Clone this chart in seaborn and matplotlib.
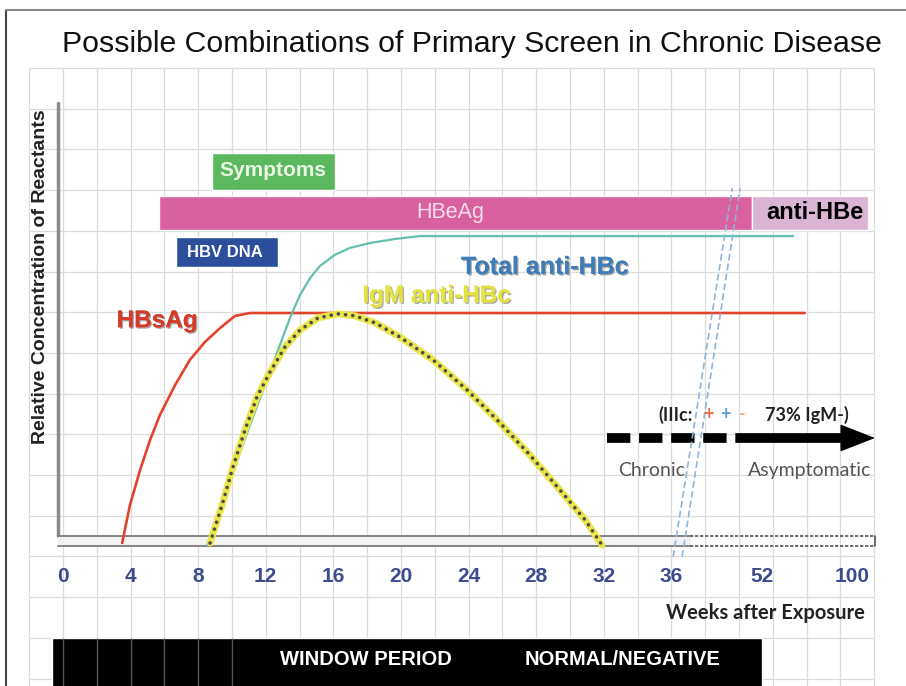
import numpy as np
import pandas as pd
import seaborn as sns
import matplotlib.pyplot as plt
import matplotlib.patheffects as pe
from matplotlib.lines import Line2D

# x axis: weeks after exposure, squeezed after week 36
tick_weeks = [0, 4, 8, 12, 16, 20, 24, 28, 32, 36, 52, 100]
tick_labels = [str(w) for w in tick_weeks]
knot_weeks = [-40, 0, 36, 52, 100, 400]
knot_pos = [-10, 0, 9, 10 + 1 / 3, 11 + 2 / 3, 11 + 2 / 3 + 300 / 36]


def fwd(w):
    return np.interp(w, knot_weeks, knot_pos)


def inv(p):
    return np.interp(p, knot_pos, knot_weeks)


# curves (week, relative level)
hbsag_wk = [3.5, 3.96, 4.56, 5.15, 5.74, 6.63, 7.51, 8.40, 9.29, 10.18, 11.07, 75]
hbsag_lvl = [-0.05, 0.88, 1.74, 2.48, 3.10, 3.83, 4.45, 4.89, 5.23, 5.53, 5.60, 5.60]

total_wk = [8.52, 9.29, 10.18, 11.07, 11.95, 12.84, 13.43, 14.02, 14.62, 15.21,
            16.09, 16.98, 18.17, 19.64, 21.12, 68.8]
total_lvl = [-0.10, 0.81, 1.84, 2.85, 3.83, 4.82, 5.48, 6.04, 6.46, 6.76,
             7.03, 7.20, 7.32, 7.42, 7.49, 7.49]

igm_wk = [8.70, 9.41, 10.06, 10.77, 11.48, 12.25, 13.14, 14.02, 15.09, 16.27,
          17.28, 18.46, 19.94, 21.89, 23.91, 25.86, 27.63, 29.41, 30.89, 31.89]
igm_lvl = [-0.05, 0.88, 1.82, 2.73, 3.54, 4.15, 4.77, 5.18, 5.48, 5.58,
           5.53, 5.36, 5.01, 4.45, 3.71, 2.90, 2.11, 1.25, 0.52, -0.10]

# marker bands
band_names = ["Symptoms", "HBeAg", "anti-HBe", "HBV DNA"]
band_start = [8.8, 5.7, 50.3, 6.7]
band_end = [16.1, 50.3, 108.7, 12.7]
band_low = [8.62, 7.64, 7.64, 6.73]
band_high = [9.53, 8.48, 8.48, 7.47]
band_colors = ["#5cb85f", "#d9619e", "#d9b5d3", "#2c4f9c"]

# bottom period strip
period_start, period_end = -0.65, 52.1
period_low, period_high = -3.6, -2.38

# chronic phase arrow and axis break
arrow_dash = [32.2, 50.5]
arrow_solid = [50.5, 96.0]
arrow_tip = 112.4
arrow_lvl = 2.53
break1_wk = [36.3, 46.8]
break2_wk = [37.9, 48.2]
break_lvl = [-0.39, 8.67]

sns.set_theme(style="white")
plt.rcParams["font.family"] = ["Liberation Sans", "DejaVu Sans"]

fig = plt.figure(figsize=(9.06, 6.86), dpi=100)
ax = fig.add_axes([0, 0, 1, 1])
ax.set_xscale("function", functions=(fwd, inv))
ax.axis("off")

# background grid
grid_pos = np.arange(-0.5, 12.01, 0.5)
grid_lvl = 11.62 - np.arange(0, 16)
ax.vlines(inv(grid_pos), -3.6, 11.62, colors="#dcdcdc", lw=0.9, zorder=0)
ax.hlines(grid_lvl, inv(-0.5), inv(12.0), colors="#dcdcdc", lw=0.9, zorder=0)

# axes drawn as in the slide
ax.plot([-0.3, -0.3], [0.13, 10.76], color="#8a8a8a", lw=2.5, zorder=2)
ax.fill_between([-0.3, 39.3], -0.12, 0.13, color="#f2f2f2", zorder=2)
ax.plot([-0.3, 39.3], [0.13, 0.13], color="#7a7a7a", lw=1.3, zorder=2)
ax.plot([-0.3, 39.3], [-0.12, -0.12], color="#7a7a7a", lw=1.3, zorder=2)
for lv in (0.13, -0.12):
    ax.plot([39.3, 112.4], [lv, lv], color="#555555", lw=1.2, ls=(0, (2, 1)), zorder=2)
ax.plot([112.4, 112.4], [-0.12, 0.13], color="#555555", lw=1.2, zorder=2)

# bands
for name, s, e, lo, hi, c in zip(band_names, band_start, band_end, band_low, band_high, band_colors):
    ax.barh((lo + hi) / 2, e - s, left=s, height=hi - lo, color=c, zorder=3)

# curves
df_hbs = pd.DataFrame({"week": hbsag_wk, "level": hbsag_lvl})
df_tot = pd.DataFrame({"week": total_wk, "level": total_lvl})
df_igm = pd.DataFrame({"week": igm_wk, "level": igm_lvl})
sns.lineplot(data=df_hbs, x="week", y="level", color="#e2432d", lw=1.9, sort=False, estimator=None, ax=ax, zorder=4)
sns.lineplot(data=df_tot, x="week", y="level", color="#63bfae", lw=1.6, sort=False, estimator=None, ax=ax, zorder=4)
sns.lineplot(data=df_igm, x="week", y="level", color="#e8e64c", lw=5, sort=False, estimator=None, ax=ax, zorder=5)
ax.plot(igm_wk, igm_lvl, color="#4a4a4a", lw=2.6, ls=(0, (0.01, 2.0)),
        dash_capstyle="round", zorder=6)

# axis break marks
for bw in (break1_wk, break2_wk):
    ax.plot(bw, break_lvl, color="#8fb3d9", lw=1.2, ls=(0, (4, 2)), zorder=6)

# chronic arrow
ax.plot(arrow_dash, [arrow_lvl] * 2, color="black", lw=7, ls=(0, (2.4, 0.9)),
        solid_capstyle="butt", zorder=5)
ax.plot(arrow_solid, [arrow_lvl] * 2, color="black", lw=7, solid_capstyle="butt", zorder=5)
ax.annotate("", xy=(arrow_tip, arrow_lvl), xytext=(arrow_solid[1] - 0.6, arrow_lvl),
            arrowprops=dict(arrowstyle="-|>,head_length=1.15,head_width=0.45",
                            mutation_scale=20, lw=1, color="black",
                            shrinkA=0, shrinkB=0), zorder=5)

# bottom strip
ax.barh((period_low + period_high) / 2, period_end - period_start, left=period_start,
        height=period_high - period_low, color="black", zorder=3)
ax.vlines(inv(np.arange(0, 2.6, 0.5)), period_low, period_high, colors="#555555", lw=1, zorder=4)
ax.text(17.9, -2.92, "WINDOW PERIOD", color="white", fontsize=14.5, fontweight="bold",
        ha="center", va="center", zorder=5)
ax.text(33.1, -2.92, "NORMAL/NEGATIVE", color="white", fontsize=14.5, fontweight="bold",
        ha="center", va="center", zorder=5)

# tick labels
for w, lab in zip(tick_weeks, tick_labels):
    ax.text(w, -0.88, lab, color="#3d4b8f", fontsize=15, fontweight="bold",
            ha="center", va="center")

ax.text(107, -1.77, "Weeks after Exposure", family="Lato", fontsize=14.5, fontweight="bold",
        color="#222222", ha="right", va="center")
ax.text(-1.36, 6.5, "Relative Concentration of Reactants", fontsize=14, fontweight="bold",
        rotation=90, ha="center", va="center", color="#222222")
ax.text(24.2, 12.22, "Possible Combinations of Primary Screen in Chronic Disease",
        fontsize=21.8, ha="center", va="center", color="#111111")

# band texts
ax.text(12.43, 9.09, "Symptoms", color="#eaf6e4", fontsize=15, fontweight="bold",
        ha="center", va="center", zorder=6)
ax.text(22.9, 8.06, "HBeAg", color="#f7dcea", fontsize=15.5, ha="center", va="center", zorder=6)
ax.text(80.4, 8.06, "anti-HBe", color="black", fontsize=17, fontweight="bold",
        ha="center", va="center", zorder=6)
ax.text(9.59, 7.08, "HBV DNA", color="white", fontsize=12, fontweight="bold",
        ha="center", va="center", zorder=6)

# curve labels
shadow = [pe.withSimplePatchShadow(offset=(1, -1), shadow_rgbFace="#555555", alpha=0.5), pe.Normal()]
ax.text(5.56, 5.41, "HBsAg", color="#d63a2a", fontsize=17.5, fontweight="bold",
        ha="center", va="center", path_effects=shadow, zorder=7)
ax.text(28.5, 6.73, "Total anti-HBc", color="#3f7db8", fontsize=18, fontweight="bold",
        ha="center", va="center", path_effects=shadow, zorder=7)
ax.text(22.1, 6.02, "IgM anti-HBc", color="#e4e23e", fontsize=17.5, fontweight="bold",
        ha="center", va="center", path_effects=shadow, zorder=7)

# chronic phase notes
ax.text(35.2, 3.10, "(IIIc:", family="Lato", fontsize=13, fontweight="bold", color="#222222",
        ha="left", va="center", zorder=7)
for xw, sym, c in zip([42.5, 45.5, 48.5], ["+", "+", "-"], ["#e8683a", "#5a9fd6", "#e2b37a"]):
    ax.text(xw, 3.10, sym, family="Lato", fontsize=13, fontweight="bold", color=c,
            ha="center", va="center", zorder=7)
ax.text(53.9, 3.10, "73% IgM-)", family="Lato", fontsize=13, fontweight="bold", color="#222222",
        ha="left", va="center", zorder=7)
ax.text(34.8, 1.74, "Chronic", family="Lato", fontsize=14, color="#555555",
        ha="center", va="center", zorder=7)
ax.text(77.4, 1.74, "Asymptomatic", family="Lato", fontsize=14, color="#555555",
        ha="center", va="center", zorder=7)

ax.set_xlim(inv(-0.932), inv(12.47))
ax.set_ylim(-3.563, 13.29)

# slide frame
fig.add_artist(Line2D([6 / 906, 6 / 906], [0, 1 - 10 / 686], color="#444444", lw=1.5))
fig.add_artist(Line2D([6 / 906, 1], [1 - 10 / 686, 1 - 10 / 686], color="#888888", lw=1.5))

fig.savefig("out.png", dpi=100)
